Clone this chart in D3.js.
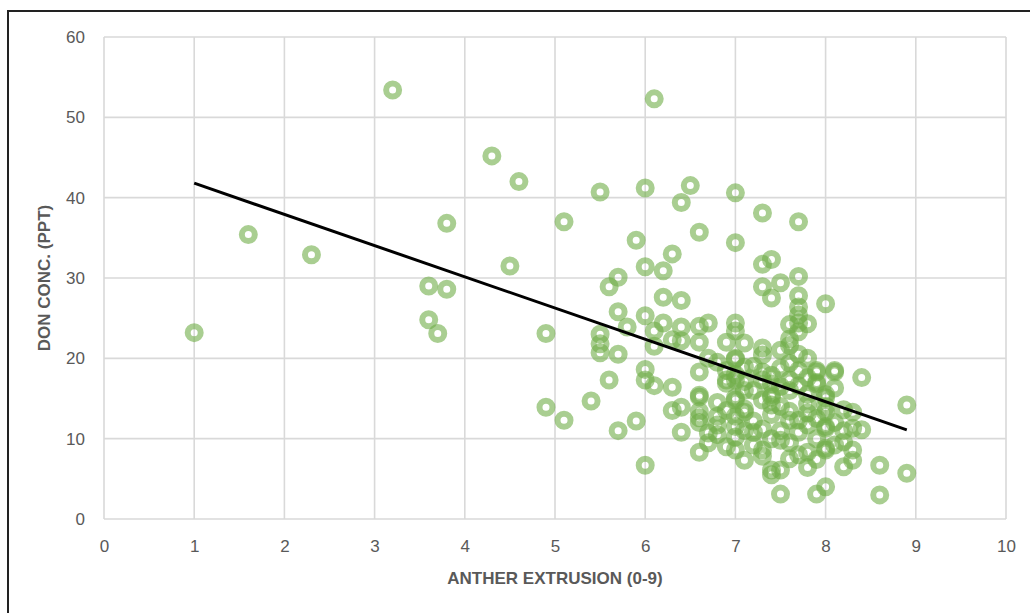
<!DOCTYPE html>
<html>
<head>
<meta charset="utf-8">
<script src="https://cdn.jsdelivr.net/npm/d3@7"></script>
<style>
  body { margin: 0; background: #fff; }
  svg { display: block; font-family: "Liberation Sans", Arial, sans-serif; }
</style>
</head>
<body>
<div id="chart"></div>
<script>
// --------------------
// DATA
// --------------------
const antherExtrusion = [
  1.0, 1.6, 2.3, 3.2, 3.6, 3.6, 3.7, 3.8, 3.8, 4.3, 4.5, 4.6, 4.9, 4.9, 5.1, 5.1, 5.4,
  5.5, 6.0, 6.5, 6.4, 7.0, 5.9, 6.6, 7.0, 6.3, 6.0, 6.2, 5.7, 5.6, 6.2, 6.4, 5.7, 6.0,
  5.8, 6.2, 6.4, 6.6, 6.7, 7.0, 7.0, 5.5, 5.5, 5.5, 5.7, 6.1, 6.4, 6.9, 7.1, 6.1,
  7.3, 7.7, 7.4, 7.3, 7.3, 7.5, 7.7, 7.4, 7.7, 7.7, 8.0, 7.7, 7.6, 7.8, 7.7, 7.7, 7.6, 7.3,
  6.1, 6.3, 6.6, 6.7, 6.0, 6.0, 6.1, 5.6, 6.3, 6.6, 6.6, 6.9, 6.3, 6.4, 5.7, 5.9, 6.0,
  6.6, 6.6, 6.4, 6.7, 6.8, 6.6, 6.9, 6.6,
  7.0, 7.1, 7.0, 7.0, 7.0, 6.9, 7.0, 7.1, 7.0,
  7.3, 7.0, 7.1, 7.4, 7.6, 7.7, 7.9, 8.1, 7.1, 7.3, 7.4, 7.0, 7.6, 7.9, 7.8, 8.0,
  7.1, 7.2, 7.3, 7.4, 7.4, 7.4, 7.5, 7.5, 7.5, 7.6, 7.7, 7.8, 7.8, 7.8, 7.7, 7.9, 8.0,
  8.0, 8.0, 8.0, 7.8, 8.1,
  8.4, 8.9, 8.1, 7.9, 7.8, 7.9, 8.0, 8.2, 8.3, 8.0, 8.4, 8.3, 8.2, 8.0, 8.3, 8.3,
  8.6, 8.9, 8.6,
  7.2, 7.3, 7.5, 7.5, 7.2, 7.4, 7.6, 7.3, 7.5, 7.6, 7.4, 7.2, 7.3, 7.5, 7.4, 7.6,
  7.7, 7.9, 7.9, 8.1, 8.2, 8.0, 7.8, 8.1, 7.7, 6.8, 6.9, 7.0, 7.1, 6.8, 6.9, 6.8,
  6.7, 6.6, 6.8, 7.0, 7.1, 7.2, 7.3, 7.4, 7.6, 7.9, 8.2, 7.7, 7.5, 7.8, 7.6
];
const donConc = [
  23.2, 35.4, 32.9, 53.4, 29.0, 24.8, 23.1, 36.8, 28.6, 45.2, 31.5, 42.0, 23.1, 13.9, 37.0, 12.3, 14.7,
  40.7, 41.2, 41.5, 39.4, 40.6, 34.7, 35.7, 34.4, 33.0, 31.4, 30.9, 30.1, 28.9, 27.6, 27.2, 25.8, 25.3,
  23.9, 24.4, 23.9, 24.0, 24.4, 24.4, 23.4, 23.0, 21.8, 20.7, 20.5, 23.4, 22.2, 22.0, 21.9, 52.3,
  38.1, 37.0, 32.3, 31.7, 28.9, 29.4, 30.2, 27.5, 27.8, 26.4, 26.8, 25.4, 24.2, 24.3, 24.4, 23.3, 22.4, 21.3,
  21.5, 22.3, 22.0, 20.0, 18.6, 17.3, 16.6, 17.3, 16.4, 18.3, 15.4, 17.3, 13.5, 13.9, 11.0, 12.2, 6.7,
  13.4, 12.0, 10.8, 10.7, 11.7, 8.3, 9.0, 15.2,
  8.6, 7.3, 10.2, 11.5, 14.8, 16.9, 17.3, 13.7, 19.9,
  20.4, 20.0, 18.9, 17.9, 19.4, 18.5, 18.5, 18.5, 17.1, 17.3, 15.5, 15.1, 17.3, 17.0, 15.5, 15.5,
  13.3, 10.8, 8.6, 15.2, 14.2, 6.1, 6.1, 9.8, 3.1, 12.3, 12.3, 11.7, 8.3, 6.4, 8.0, 3.1, 4.0,
  11.5, 8.6, 13.3, 13.2, 9.2,
  17.6, 14.2, 18.3, 18.3, 17.6, 16.8, 15.1, 13.6, 13.3, 11.3, 11.1, 11.3, 9.6, 8.8, 8.6, 7.3,
  6.7, 5.7, 3.0,
  19.0, 18.3, 18.8, 16.5, 16.0, 16.8, 16.0, 14.8, 14.0, 13.4, 13.0, 12.2, 11.2, 11.0, 10.0, 9.5,
  10.8, 10.0, 12.5, 12.0, 11.0, 14.0, 14.3, 16.3, 16.6, 19.5, 18.5, 18.0, 16.0, 14.5, 13.5, 12.8,
  9.5, 12.6, 10.5, 12.8, 11.0, 9.2, 7.8, 5.5, 7.5, 7.4, 6.5, 20.5, 21.0, 20.0, 21.6
];
const points = antherExtrusion.map((x, i) => ({ x: x, y: donConc[i] }));

// linear trendline
const trendX = [1.0, 8.9];
const trendSlope = -3.886;
const trendIntercept = 45.69;

const xTicks = [0, 1, 2, 3, 4, 5, 6, 7, 8, 9, 10];
const yTicks = [0, 10, 20, 30, 40, 50, 60];
const xTitle = "ANTHER EXTRUSION (0-9)";
const yTitle = "DON CONC. (PPT)";

// --------------------
// CHART
// --------------------
const width = 1030;
const height = 613;
const plot = { left: 104, right: 1006, top: 37, bottom: 519 };

const svg = d3.select("#chart")
  .append("svg")
  .attr("width", width)
  .attr("height", height);

// outer frame (only top + left visible in the picture)
svg.append("rect")
  .attr("x", 8)
  .attr("y", 11)
  .attr("width", 1100)
  .attr("height", 700)
  .attr("fill", "none")
  .attr("stroke", "#222")
  .attr("stroke-width", 2);

const x = d3.scaleLinear()
  .domain([0, 10])
  .range([plot.left, plot.right]);

const y = d3.scaleLinear()
  .domain([0, 60])
  .range([plot.bottom, plot.top]);

// grid
svg.append("g")
  .selectAll("line")
  .data(xTicks)
  .join("line")
  .attr("x1", d => x(d)).attr("x2", d => x(d))
  .attr("y1", plot.top).attr("y2", plot.bottom)
  .attr("stroke", "#d9d9d9")
  .attr("stroke-width", 1.6);

svg.append("g")
  .selectAll("line")
  .data(yTicks)
  .join("line")
  .attr("x1", plot.left).attr("x2", plot.right)
  .attr("y1", d => y(d)).attr("y2", d => y(d))
  .attr("stroke", "#d9d9d9")
  .attr("stroke-width", 1.6);

// axes (labels only)
const xAxis = svg.append("g")
  .attr("transform", `translate(0,${plot.bottom})`)
  .call(d3.axisBottom(x).tickValues(xTicks).tickSize(0).tickPadding(21));

const yAxis = svg.append("g")
  .attr("transform", `translate(${plot.left},0)`)
  .call(d3.axisLeft(y).tickValues(yTicks).tickSize(0).tickPadding(19));

[xAxis, yAxis].forEach(g => {
  g.select(".domain").remove();
  g.selectAll("text")
    .attr("fill", "#595959")
    .style("font-size", "17px")
    .style("font-family", "'Liberation Sans', Arial, sans-serif");
});

// points
svg.append("g")
  .selectAll("circle")
  .data(points)
  .join("circle")
  .attr("cx", d => x(d.x))
  .attr("cy", d => y(d.y))
  .attr("r", 6.5)
  .attr("fill", "none")
  .attr("stroke", "#70ad47")
  .attr("stroke-opacity", 0.6)
  .attr("stroke-width", 6);

// trendline
svg.append("path")
  .datum(trendX)
  .attr("fill", "none")
  .attr("stroke", "#000")
  .attr("stroke-width", 3)
  .attr("d", d3.line()
    .x(d => x(d))
    .y(d => y(trendSlope * d + trendIntercept))
  );

// axis titles
svg.append("text")
  .attr("x", (plot.left + plot.right) / 2)
  .attr("y", 584)
  .attr("text-anchor", "middle")
  .attr("fill", "#595959")
  .style("font-size", "17px")
  .style("font-weight", "bold")
  .text(xTitle);

svg.append("text")
  .attr("transform", `translate(50,${(plot.top + plot.bottom) / 2}) rotate(-90)`)
  .attr("text-anchor", "middle")
  .attr("fill", "#595959")
  .style("font-size", "17px")
  .style("font-weight", "bold")
  .text(yTitle);
</script>
</body>
</html>
